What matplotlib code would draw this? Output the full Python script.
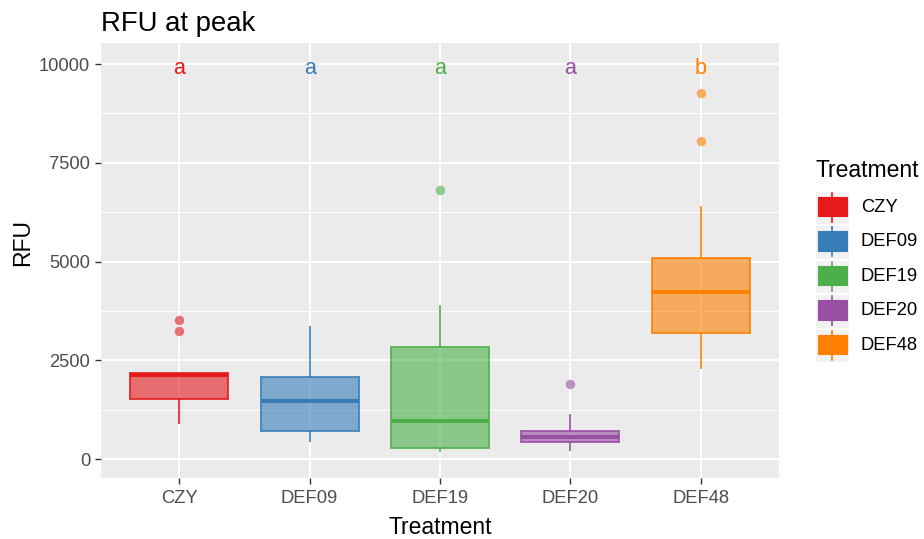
import matplotlib
matplotlib.use("Agg")
import matplotlib.pyplot as plt
from matplotlib.patches import Rectangle
from matplotlib.lines import Line2D
from matplotlib.colors import to_rgba

plt.rcParams['font.family'] = ['Liberation Sans', 'DejaVu Sans']

# ---- data ----
categories = ['CZY', 'DEF09', 'DEF19', 'DEF20', 'DEF48']
q1 = [1511, 709, 286, 438, 3197]
medians = [2127, 1476, 970, 565, 4235]
q3 = [2177, 2084, 2835, 709, 5081]
whisker_low = [904, 463, 203, 228, 2311]
whisker_high = [2177, 3349, 3873, 1114, 6387]
outliers = [[3233, 3511], [], [6810], [1891], [8051, 9266]]
letters = ['a', 'a', 'a', 'a', 'b']
letter_y = 10000
colors = ['#E41A1C', '#377EB8', '#4DAF4A', '#984EA3', '#FF7F00']
yticks = [0, 2500, 5000, 7500, 10000]
yminor = [1250, 3750, 6250, 8750]

W, H = 924, 539
fig = plt.figure(figsize=(W / 100, H / 100), dpi=100)
fig.patch.set_facecolor('white')

px = lambda x: x / W
py = lambda y: 1 - y / H

ax = fig.add_axes([px(101), py(478), px(779) - px(101), py(43) - py(478)])
ax.set_facecolor('#EBEBEB')
for s in ax.spines.values():
    s.set_visible(False)

positions = list(range(1, len(categories) + 1))
ax.set_xlim(0.4, len(categories) + 0.6)
ax.set_ylim(-481, 10532)

# grid
for yv in yminor:
    ax.axhline(yv, color='white', lw=0.75, zorder=0)
for yv in yticks:
    ax.axhline(yv, color='white', lw=1.5, zorder=0)
for xv in positions:
    ax.axvline(xv, color='white', lw=1.5, zorder=0)

stats = []
for i, c in enumerate(categories):
    stats.append(dict(label=c, q1=q1[i], med=medians[i], q3=q3[i],
                      whislo=whisker_low[i], whishi=whisker_high[i],
                      fliers=outliers[i]))

for i, st in enumerate(stats):
    col = colors[i]
    ax.bxp([st], positions=[positions[i]], widths=0.75, patch_artist=True,
           showcaps=False, manage_ticks=False,
           boxprops=dict(facecolor=to_rgba(col, 0.6), edgecolor=to_rgba(col, 0.85), lw=1.4),
           whiskerprops=dict(color=to_rgba(col, 0.85), lw=1.4),
           medianprops=dict(color=col, lw=2.9, solid_capstyle='butt'),
           flierprops=dict(marker='o', markerfacecolor=to_rgba(col, 0.6),
                           markeredgecolor='none', markersize=6.8),
           zorder=2)
    ax.annotate(letters[i], (positions[i], letter_y), xytext=(0, -7.2),
                textcoords='offset points', color=col, fontsize=15.5,
                ha='center', va='baseline', zorder=3)

ax.set_xticks(positions)
ax.set_xticklabels(categories)
ax.set_yticks(yticks)
ax.set_yticklabels([str(v) for v in yticks])
ax.tick_params(axis='both', colors='#333333', length=4.3, width=1.0,
               labelsize=13.2, labelcolor='#4D4D4D')
ax.tick_params(axis='x', pad=4.5)
ax.tick_params(axis='y', pad=3.5)

# titles
fig.text(px(101), py(31), 'RFU at peak', fontsize=19.8, color='black',
         ha='left', va='baseline')
fig.text(px(440), py(534), 'Treatment', fontsize=16.5, color='black',
         ha='center', va='baseline')
fig.text(px(23), py(260.5), 'RFU', fontsize=16.5, color='black',
         ha='center', va='baseline', rotation=90)

# legend
fig.text(px(815), py(177), 'Treatment', fontsize=16.5, color='black',
         ha='left', va='baseline')
key = 34.5
top = 190
for i, c in enumerate(categories):
    y0 = top + i * key
    x0 = 815
    fig.patches.append(Rectangle((px(x0), py(y0 + key - 0.5)), px(key - 1), (key - 1) / H,
                                 transform=fig.transFigure, facecolor='#F2F2F2',
                                 edgecolor='white', lw=0.8))
    fig.lines.append(Line2D([px(x0 + key / 2), px(x0 + key / 2)],
                            [py(y0 + key * 0.92), py(y0 + key * 0.08)],
                            transform=fig.transFigure, color=colors[i], lw=1.2))
    fig.patches.append(Rectangle((px(x0 + key * 0.08), py(y0 + key * 0.76)),
                                 px(key * 0.84), key * 0.57 / H,
                                 transform=fig.transFigure, facecolor=colors[i],
                                 edgecolor=colors[i], lw=0.8))
    fig.text(px(861), py(y0 + key / 2), c, fontsize=13.2, color='black',
             ha='left', va='center')

fig.savefig('out.png', dpi=100)
